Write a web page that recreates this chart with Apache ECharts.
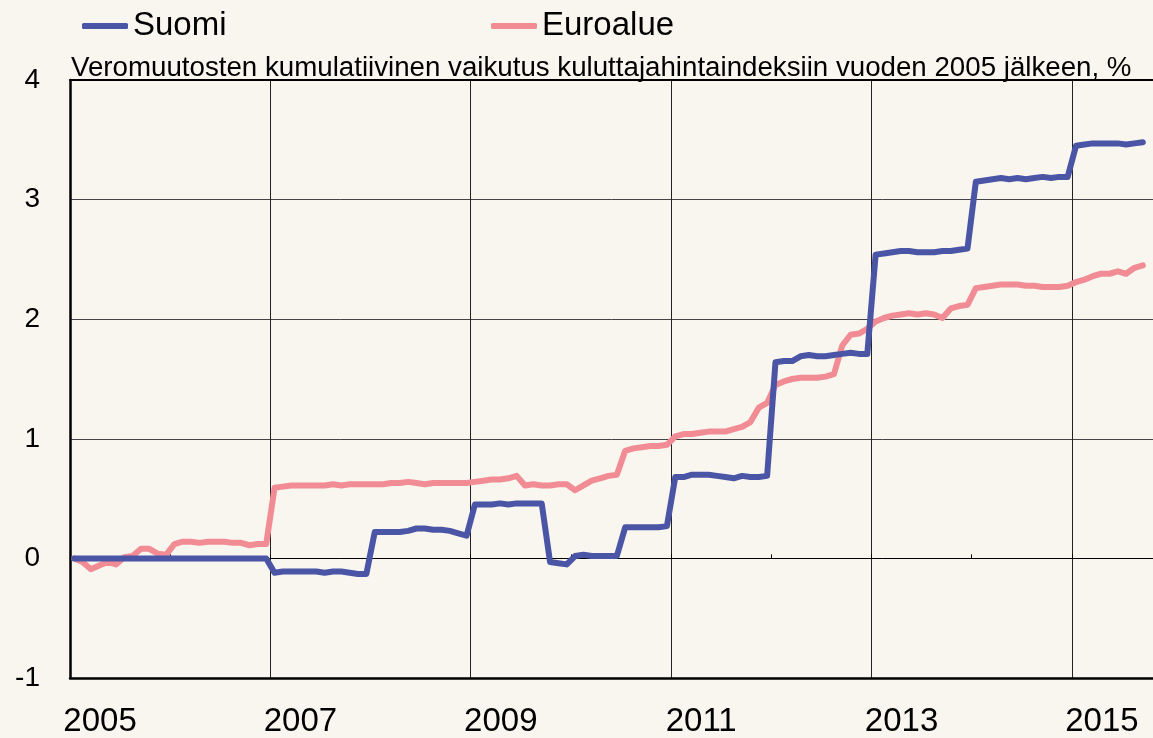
<!DOCTYPE html>
<html>
<head>
<meta charset="utf-8">
<title>Veromuutosten vaikutus</title>
<script src="https://cdn.jsdelivr.net/npm/echarts@6/dist/echarts.min.js"></script>
<style>
    html, body { margin: 0; padding: 0; background: #f9f5ef; }
    #chart { width: 1153px; height: 738px; }
</style>
</head>
<body>
<div id="chart"></div>
<script>
// kuukausittainen data, tammikuu 2005 - syyskuu 2015
const startYear = 2005
const yearLabels = [2005, 2007, 2009, 2011, 2013, 2015]
const yTicks = [-1, 0, 1, 2, 3, 4]

const suomi = [
    // 2005
    0, 0, 0, 0, 0, 0, 0, 0, 0, 0, 0, 0,
    // 2006
    0, 0, 0, 0, 0, 0, 0, 0, 0, 0, 0, 0,
    // 2007
    -0.12, -0.11, -0.11, -0.11, -0.11, -0.11, -0.12, -0.11, -0.11, -0.12, -0.13, -0.13,
    // 2008
    0.22, 0.22, 0.22, 0.22, 0.23, 0.25, 0.25, 0.24, 0.24, 0.23, 0.21, 0.19,
    // 2009
    0.45, 0.45, 0.45, 0.46, 0.45, 0.46, 0.46, 0.46, 0.46, -0.03, -0.04, -0.05,
    // 2010
    0.02, 0.03, 0.02, 0.02, 0.02, 0.02, 0.26, 0.26, 0.26, 0.26, 0.26, 0.27,
    // 2011
    0.68, 0.68, 0.70, 0.70, 0.70, 0.69, 0.68, 0.67, 0.69, 0.68, 0.68, 0.69,
    // 2012
    1.64, 1.65, 1.65, 1.69, 1.70, 1.69, 1.69, 1.70, 1.71, 1.72, 1.71, 1.71,
    // 2013
    2.54, 2.55, 2.56, 2.57, 2.57, 2.56, 2.56, 2.56, 2.57, 2.57, 2.58, 2.59,
    // 2014
    3.15, 3.16, 3.17, 3.18, 3.17, 3.18, 3.17, 3.18, 3.19, 3.18, 3.19, 3.19,
    // 2015
    3.45, 3.46, 3.47, 3.47, 3.47, 3.47, 3.46, 3.47, 3.48
]

const euroalue = [
    // 2005
    0.00, -0.03, -0.09, -0.06, -0.03, -0.05, 0.01, 0.02, 0.08, 0.08, 0.04, 0.03,
    // 2006
    0.12, 0.14, 0.14, 0.13, 0.14, 0.14, 0.14, 0.13, 0.13, 0.11, 0.12, 0.12,
    // 2007
    0.59, 0.60, 0.61, 0.61, 0.61, 0.61, 0.61, 0.62, 0.61, 0.62, 0.62, 0.62,
    // 2008
    0.62, 0.62, 0.63, 0.63, 0.64, 0.63, 0.62, 0.63, 0.63, 0.63, 0.63, 0.63,
    // 2009
    0.64, 0.65, 0.66, 0.66, 0.67, 0.69, 0.61, 0.62, 0.61, 0.61, 0.62, 0.62,
    // 2010
    0.57, 0.61, 0.65, 0.67, 0.69, 0.70, 0.90, 0.92, 0.93, 0.94, 0.94, 0.95,
    // 2011
    1.02, 1.04, 1.04, 1.05, 1.06, 1.06, 1.06, 1.08, 1.10, 1.14, 1.26, 1.30,
    // 2012
    1.45, 1.48, 1.50, 1.51, 1.51, 1.51, 1.52, 1.54, 1.78, 1.87, 1.88, 1.92,
    // 2013
    1.98, 2.01, 2.03, 2.04, 2.05, 2.04, 2.05, 2.04, 2.01, 2.09, 2.11, 2.12,
    // 2014
    2.26, 2.27, 2.28, 2.29, 2.29, 2.29, 2.28, 2.28, 2.27, 2.27, 2.27, 2.28,
    // 2015
    2.31, 2.33, 2.36, 2.38, 2.38, 2.40, 2.38, 2.43, 2.45
]

// kuukauden keskikohta vuosiasteikolla
function toPoints(values) {
    return values.map((v, i) => [startYear + (i + 0.5) / 12, v])
}

const xMin = 2005
const xMax = 2015.81
const labelShift = 0.3

const myChart = echarts.init(document.getElementById('chart'))
const font = 'Arial, "Liberation Sans", sans-serif'

let option = {
    backgroundColor: '#f9f5ef',
    animation: false,
    title: {
        text: 'Veromuutosten kumulatiivinen vaikutus kuluttajahintaindeksiin vuoden 2005 jälkeen, %',
        left: 71,
        top: 55,
        padding: 0,
        textStyle: {
            fontFamily: font,
            fontSize: 27.7,
            fontWeight: 'normal',
            color: '#000',
            lineHeight: 26
        }
    },
    legend: [
        {
            data: ['Suomi'],
            left: 82,
            top: 9,
            padding: 0,
            icon: 'roundRect',
            itemWidth: 46,
            itemHeight: 6,
            textStyle: { fontFamily: font, fontSize: 33, color: '#000', lineHeight: 34 }
        },
        {
            data: ['Euroalue'],
            left: 491,
            top: 9,
            padding: 0,
            icon: 'roundRect',
            itemWidth: 46,
            itemHeight: 6,
            textStyle: { fontFamily: font, fontSize: 33, color: '#000', lineHeight: 34 }
        }
    ],
    grid: {
        left: 70,
        right: 0,
        top: 80,
        bottom: 55,
        containLabel: false
    },
    xAxis: [
        {
            // data-akseli: pystyviivat parittomina vuosina, alareuna
            type: 'value',
            position: 'bottom',
            min: xMin,
            max: xMax,
            interval: 2,
            axisLine: { show: true, onZero: false, lineStyle: { color: '#000', width: 2.5 } },
            axisTick: { show: false },
            axisLabel: { show: false },
            splitLine: { show: true, lineStyle: { color: '#222', width: 1 } }
        },
        {
            // vuositekstit
            type: 'value',
            position: 'bottom',
            min: xMin - labelShift,
            max: xMax - labelShift,
            axisLine: { show: false, onZero: false },
            axisTick: { show: false },
            splitLine: { show: false },
            axisLabel: {
                show: true,
                customValues: yearLabels,
                fontFamily: font,
                fontSize: 33,
                color: '#000',
                margin: 27,
                formatter: v => String(v)
            }
        },
        {
            // nollaviiva
            type: 'value',
            position: 'bottom',
            min: xMin,
            max: xMax,
            interval: 1,
            axisLine: { show: true, onZero: true, lineStyle: { color: '#000', width: 1 } },
            axisTick: { show: true, inside: true, length: 4, lineStyle: { color: '#000', width: 1 } },
            axisLabel: { show: false },
            splitLine: { show: false }
        },
        {
            // yläreuna
            type: 'value',
            position: 'top',
            min: xMin,
            max: xMax,
            axisLine: { show: true, onZero: false, lineStyle: { color: '#000', width: 2 } },
            axisTick: { show: false },
            axisLabel: { show: false },
            splitLine: { show: false }
        }
    ],
    yAxis: {
        type: 'value',
        min: -1,
        max: 4,
        interval: 1,
        axisLine: { show: true, lineStyle: { color: '#000', width: 2.5 } },
        axisTick: { show: false },
        splitLine: { show: true, lineStyle: { color: '#444', width: 1 } },
        axisLabel: {
            fontFamily: font,
            fontSize: 28,
            color: '#000',
            margin: 30,
            customValues: yTicks
        }
    },
    series: [
        {
            name: 'Suomi',
            type: 'line',
            xAxisIndex: 0,
            showSymbol: false,
            symbol: 'none',
            color: '#4b55a5',
            lineStyle: { width: 6, color: '#4b55a5', cap: 'round', join: 'round' },
            data: toPoints(suomi),
            z: 3
        },
        {
            name: 'Euroalue',
            type: 'line',
            xAxisIndex: 0,
            showSymbol: false,
            symbol: 'none',
            color: '#f28c94',
            lineStyle: { width: 6, color: '#f28c94', cap: 'round', join: 'round' },
            data: toPoints(euroalue),
            z: 2
        }
    ]
}

myChart.setOption(option)
window.addEventListener('resize', () => {
    if (myChart) {
        myChart.resize()
    }
})
</script>
</body>
</html>
